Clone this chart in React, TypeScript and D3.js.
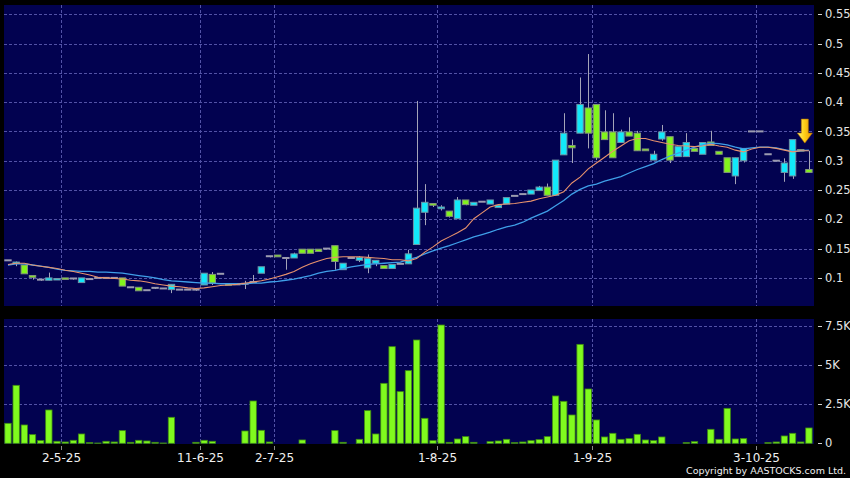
import * as d3 from 'd3'
import React, { useEffect, useRef } from 'react'

// daily candles, oldest first
const opens = [
  0.13, 0.125, 0.122, 0.104, 0.097, 0.096, 0.097, 0.1, 0.099, 0.092,
  0.098, 0.1, 0.1, 0.1, 0.1, 0.084, 0.084, 0.079, 0.083, 0.082,
  0.08, 0.08, 0.08, 0.08, 0.088, 0.106, 0.107, 0.09, 0.089, 0.09,
  0.093, 0.108, 0.137, 0.139, 0.134, 0.134, 0.149, 0.149, 0.149, 0.15,
  0.155, 0.114, 0.134, 0.13, 0.117, 0.125, 0.121, 0.116, 0.124, 0.124,
  0.157, 0.212, 0.227, 0.218, 0.214, 0.201, 0.233, 0.224, 0.23, 0.226,
  0.22, 0.226, 0.24, 0.243, 0.243, 0.249, 0.255, 0.241, 0.31, 0.326,
  0.347, 0.39, 0.396, 0.349, 0.349, 0.331, 0.349, 0.347, 0.32, 0.301,
  0.337, 0.341, 0.307, 0.307, 0.321, 0.311, 0.332, 0.316, 0.305, 0.274,
  0.3, 0.35, 0.35, 0.311, 0.3, 0.28, 0.274, 0.319, 0.285,
]
const highs = [
  0.13, 0.128, 0.122, 0.104, 0.097, 0.109, 0.099, 0.1, 0.099, 0.1,
  0.098, 0.1, 0.1, 0.1, 0.1, 0.084, 0.084, 0.079, 0.083, 0.082,
  0.089, 0.08, 0.08, 0.08, 0.108, 0.11, 0.107, 0.09, 0.089, 0.095,
  0.105, 0.119, 0.137, 0.139, 0.134, 0.143, 0.149, 0.149, 0.149, 0.15,
  0.155, 0.125, 0.134, 0.137, 0.14, 0.13, 0.121, 0.123, 0.124, 0.148,
  0.402, 0.26, 0.227, 0.224, 0.214, 0.238, 0.233, 0.229, 0.23, 0.233,
  0.224, 0.237, 0.24, 0.243, 0.25, 0.257, 0.261, 0.301, 0.381, 0.336,
  0.442, 0.482, 0.396, 0.386, 0.381, 0.353, 0.374, 0.351, 0.32, 0.317,
  0.361, 0.341, 0.324, 0.347, 0.321, 0.331, 0.351, 0.316, 0.305, 0.305,
  0.321, 0.35, 0.35, 0.311, 0.3, 0.304, 0.336, 0.319, 0.317,
]
const lows = [
  0.13, 0.12, 0.107, 0.097, 0.095, 0.096, 0.097, 0.098, 0.097, 0.092,
  0.098, 0.1, 0.1, 0.1, 0.086, 0.084, 0.078, 0.079, 0.081, 0.082,
  0.074, 0.08, 0.08, 0.078, 0.088, 0.088, 0.107, 0.088, 0.089, 0.081,
  0.093, 0.108, 0.135, 0.136, 0.114, 0.134, 0.142, 0.142, 0.145, 0.15,
  0.114, 0.114, 0.134, 0.127, 0.108, 0.12, 0.116, 0.116, 0.124, 0.124,
  0.157, 0.19, 0.221, 0.215, 0.203, 0.201, 0.224, 0.224, 0.23, 0.226,
  0.22, 0.226, 0.24, 0.243, 0.243, 0.249, 0.241, 0.241, 0.31, 0.296,
  0.347, 0.321, 0.301, 0.336, 0.305, 0.331, 0.342, 0.317, 0.317, 0.301,
  0.334, 0.296, 0.307, 0.307, 0.316, 0.311, 0.326, 0.311, 0.28, 0.26,
  0.297, 0.35, 0.35, 0.311, 0.3, 0.264, 0.269, 0.317, 0.28,
]
const closes = [
  0.13, 0.127, 0.107, 0.101, 0.097, 0.1, 0.099, 0.098, 0.099, 0.1,
  0.098, 0.1, 0.1, 0.1, 0.086, 0.084, 0.078, 0.079, 0.083, 0.082,
  0.089, 0.08, 0.08, 0.08, 0.108, 0.091, 0.107, 0.088, 0.089, 0.09,
  0.093, 0.119, 0.137, 0.136, 0.134, 0.141, 0.142, 0.142, 0.145, 0.15,
  0.128, 0.125, 0.134, 0.135, 0.133, 0.13, 0.116, 0.123, 0.124, 0.141,
  0.219, 0.229, 0.224, 0.221, 0.205, 0.233, 0.225, 0.229, 0.23, 0.233,
  0.224, 0.237, 0.24, 0.243, 0.25, 0.255, 0.241, 0.301, 0.347, 0.322,
  0.396, 0.347, 0.305, 0.336, 0.305, 0.349, 0.342, 0.317, 0.317, 0.311,
  0.349, 0.301, 0.324, 0.331, 0.316, 0.331, 0.326, 0.311, 0.28, 0.305,
  0.321, 0.35, 0.35, 0.311, 0.3, 0.296, 0.336, 0.317, 0.28,
]
const volumes = [
  1275, 3698, 1169, 553, 170, 2125, 128, 85, 191, 595,
  42, 20, 128, 85, 808, 64, 191, 149, 64, 21,
  1658, 0, 0, 64, 191, 128, 0, 0, 0, 786,
  2699, 829, 85, 0, 0, 0, 213, 0, 0, 0,
  808, 64, 0, 255, 2083, 595, 3825, 6163, 3294, 4633,
  6588, 1594, 170, 7544, 64, 276, 425, 64, 0, 106,
  149, 255, 42, 85, 170, 234, 425, 3018, 2678, 1806,
  6311, 3464, 1488, 404, 638, 255, 298, 574, 213, 170,
  404, 0, 0, 42, 106, 0, 893, 255, 2231, 276,
  298, 0, 0, 42, 85, 468, 638, 85, 978,
]
// moving averages as plotted (fast = orange, slow = blue)
const maFast = [
  0.123, 0.125, 0.125, 0.122, 0.12, 0.118, 0.116, 0.113, 0.111, 0.108,
  0.105, 0.101, 0.1, 0.099, 0.098, 0.096, 0.095, 0.093, 0.09, 0.088,
  0.086, 0.085, 0.083, 0.082, 0.083, 0.085, 0.087, 0.088, 0.089, 0.091,
  0.093, 0.095, 0.098, 0.102, 0.106, 0.111, 0.118, 0.124, 0.129, 0.133,
  0.135, 0.136, 0.136, 0.136, 0.135, 0.134, 0.133, 0.131, 0.131, 0.129,
  0.133, 0.144, 0.153, 0.163, 0.17, 0.177, 0.185, 0.201, 0.211, 0.221,
  0.225, 0.226, 0.227, 0.229, 0.231, 0.235, 0.238, 0.241, 0.247, 0.262,
  0.272, 0.286, 0.296, 0.306, 0.316, 0.325, 0.334, 0.338, 0.338, 0.334,
  0.331, 0.328, 0.326, 0.325, 0.324, 0.325, 0.328, 0.325, 0.323, 0.318,
  0.315, 0.32, 0.323, 0.323, 0.321, 0.318, 0.315, 0.317, 0.317,
]
const maSlow = [
  0.122, 0.124, 0.124, 0.122, 0.12, 0.118, 0.115, 0.113, 0.112, 0.111,
  0.111, 0.11, 0.11, 0.109, 0.108, 0.106, 0.104, 0.102, 0.1, 0.097,
  0.095, 0.094, 0.093, 0.092, 0.091, 0.091, 0.09, 0.09, 0.09, 0.09,
  0.091, 0.091, 0.093, 0.094, 0.096, 0.098, 0.101, 0.104, 0.108, 0.111,
  0.113, 0.116, 0.119, 0.121, 0.123, 0.124, 0.125, 0.126, 0.127, 0.131,
  0.135, 0.141, 0.146, 0.151, 0.155, 0.16, 0.165, 0.17, 0.174, 0.178,
  0.183, 0.187, 0.19, 0.195, 0.202, 0.208, 0.214, 0.223, 0.232, 0.243,
  0.251, 0.257, 0.26, 0.265, 0.269, 0.273, 0.279, 0.285, 0.29, 0.295,
  0.302, 0.308, 0.313, 0.318, 0.323, 0.327, 0.33, 0.329, 0.327, 0.323,
  0.32, 0.322, 0.323, 0.323, 0.322, 0.319, 0.316, 0.317, 0.318,
]
const tickIdx = [7, 24, 33, 53, 72, 92]
const tickLabels = ['2-5-25', '11-6-25', '2-7-25', '1-8-25', '1-9-25', '3-10-25']
const priceTicks = [0.1, 0.15, 0.2, 0.25, 0.3, 0.35, 0.4, 0.45, 0.5, 0.55]
const volTicks = [0, 2500, 5000, 7500]
const volTickLabels = ['0', '2.5K', '5K', '7.5K']

const W = 850
const H = 478
const FONT = '"DejaVu Sans", Verdana, sans-serif'

const drawChart = (node: SVGSVGElement) => {
  const svg = d3.select(node)
  svg.selectAll('*').remove()

  const left = 4, right = 814
  const pTop = 5, pBottom = 306
  const vTop = 319, vBottom = 444

  const idx = d3.range(closes.length)
  const x = d3.scaleBand<number>()
    .domain(idx)
    .range([3.9, 813])
    .paddingInner(0.22)
    .paddingOuter(0.11)
  const step = x.step()
  const bw = x.bandwidth()
  const cx = (i: number) => (x(i) as number) + bw / 2
  const gridX = (i: number) => (x(i) as number) - step * 0.11

  const y = d3.scaleLinear().domain([0.1, 0.55]).range([277.9, 14.2])
  const yv = d3.scaleLinear().domain([0, 7500]).range([443.3, 325.7])

  svg.append('rect').attr('width', W).attr('height', H).attr('fill', '#000')

  const defs = svg.append('defs')
  defs.append('clipPath').attr('id', 'pclip')
    .append('rect').attr('x', left).attr('y', pTop).attr('width', right - left).attr('height', pBottom - pTop)
  const grad = defs.append('linearGradient').attr('id', 'arrowGrad')
    .attr('x1', '0').attr('x2', '1').attr('y1', '0').attr('y2', '0')
  grad.append('stop').attr('offset', '0%').attr('stop-color', '#fff27a')
  grad.append('stop').attr('offset', '45%').attr('stop-color', '#ffd21a')
  grad.append('stop').attr('offset', '100%').attr('stop-color', '#e89400')

  // panels
  svg.append('rect').attr('x', left).attr('y', pTop).attr('width', right - left).attr('height', pBottom - pTop).attr('fill', '#020250')
  svg.append('rect').attr('x', left).attr('y', vTop).attr('width', right - left).attr('height', vBottom - vTop).attr('fill', '#020250')

  const gridColor = '#5252a6'
  const grid = svg.append('g').attr('stroke', gridColor).attr('stroke-width', 1).attr('stroke-dasharray', '3,2')
  priceTicks.forEach((t) => {
    grid.append('line').attr('x1', left).attr('x2', right).attr('y1', Math.round(y(t)) + 0.5).attr('y2', Math.round(y(t)) + 0.5)
  })
  volTicks.slice(1).forEach((t) => {
    grid.append('line').attr('x1', left).attr('x2', right).attr('y1', Math.round(yv(t)) + 0.5).attr('y2', Math.round(yv(t)) + 0.5)
  })
  tickIdx.forEach((i) => {
    const gx = Math.round(gridX(i)) + 0.5
    grid.append('line').attr('x1', gx).attr('x2', gx).attr('y1', pTop).attr('y2', pBottom)
    grid.append('line').attr('x1', gx).attr('x2', gx).attr('y1', vTop).attr('y2', vBottom)
  })

  // candles
  const candles = svg.append('g').attr('clip-path', 'url(#pclip)')
  idx.forEach((i) => {
    const o = opens[i], c = closes[i], h = highs[i], l = lows[i]
    const xm = Math.round(cx(i)) + 0.5
    if (h > Math.max(o, c) || l < Math.min(o, c)) {
      candles.append('line')
        .attr('x1', xm).attr('x2', xm)
        .attr('y1', y(h)).attr('y2', y(l))
        .attr('stroke', '#a4a4b8').attr('stroke-width', 1)
    }
    if (o === c) {
      candles.append('rect')
        .attr('x', (x(i) as number) - 0.5).attr('y', y(c) - 1)
        .attr('width', bw + 1).attr('height', 2)
        .attr('fill', '#9c9cb0')
      return
    }
    const up = c > o
    const top = y(Math.max(o, c))
    const hgt = Math.max(1.5, y(Math.min(o, c)) - top)
    candles.append('rect')
      .attr('x', x(i) as number).attr('y', top)
      .attr('width', bw).attr('height', hgt)
      .attr('fill', up ? '#12e8fa' : '#82f41c')
      .attr('stroke', up ? '#6f95a6' : '#84967a')
      .attr('stroke-width', 1)
  })

  // moving averages
  const line = d3.line<number>()
    .x((_, i) => cx(i))
    .y((d) => y(d))
  candles.append('path').attr('d', line(maSlow)).attr('fill', 'none')
    .attr('stroke', '#3f9fe8').attr('stroke-width', 1.3)
  candles.append('path').attr('d', line(maFast)).attr('fill', 'none')
    .attr('stroke', '#e8926c').attr('stroke-width', 1.1)

  // volume
  svg.append('g').selectAll('rect')
    .data(volumes)
    .enter()
    .append('rect')
    .attr('x', (_, i) => x(i) as number)
    .attr('y', (d) => yv(d))
    .attr('width', bw)
    .attr('height', (d) => yv(0) - yv(d))
    .attr('fill', '#80fa1e')
    .attr('stroke', (d) => (d > 0 ? '#3f8a12' : 'none'))
    .attr('stroke-width', 0.8)

  // right axes
  const axisText = svg.append('g').attr('font-family', FONT).attr('font-size', 11.5).attr('fill', '#e6e6e6')
  priceTicks.forEach((t) => {
    svg.append('line').attr('x1', 818).attr('x2', 822).attr('y1', Math.round(y(t)) + 0.5).attr('y2', Math.round(y(t)) + 0.5)
      .attr('stroke', '#cfcfcf')
    axisText.append('text').attr('x', 825).attr('y', y(t)).attr('dy', '0.36em').text(d3.format('~g')(t))
  })
  volTicks.forEach((t, k) => {
    svg.append('line').attr('x1', 818).attr('x2', 822).attr('y1', Math.round(yv(t)) + 0.5).attr('y2', Math.round(yv(t)) + 0.5)
      .attr('stroke', '#cfcfcf')
    axisText.append('text').attr('x', 825).attr('y', yv(t)).attr('dy', '0.36em').text(volTickLabels[k])
  })

  // bottom date axis
  const dateAxis = svg.append('g').attr('font-family', FONT).attr('font-size', 12).attr('fill', '#f0f0f0')
  tickIdx.forEach((i, k) => {
    const gx = Math.round(gridX(i)) + 0.5
    svg.append('line').attr('x1', gx).attr('x2', gx).attr('y1', 446).attr('y2', 450).attr('stroke', '#8a8a8a')
    dateAxis.append('text').attr('x', gx).attr('y', 462).attr('text-anchor', 'middle').text(tickLabels[k])
  })

  svg.append('text')
    .attr('x', 846).attr('y', 474)
    .attr('text-anchor', 'end')
    .attr('font-family', FONT).attr('font-size', 9.5).attr('fill', '#f0f0f0')
    .text('Copyright by AASTOCKS.com Ltd.')

  // latest-bar marker
  const last = closes.length - 1
  const ax = (cx(last - 1) + cx(last)) / 2
  const tipY = y(0.33)
  const arrow = d3.path()
  arrow.moveTo(ax - 3.5, tipY - 24)
  arrow.lineTo(ax + 3.5, tipY - 24)
  arrow.lineTo(ax + 3.5, tipY - 10)
  arrow.lineTo(ax + 7.5, tipY - 10)
  arrow.lineTo(ax, tipY)
  arrow.lineTo(ax - 7.5, tipY - 10)
  arrow.lineTo(ax - 3.5, tipY - 10)
  arrow.closePath()
  svg.append('path').attr('d', arrow.toString())
    .attr('fill', 'url(#arrowGrad)').attr('stroke', '#b87800').attr('stroke-width', 0.6)
}

export default function App() {
  const ref = useRef<SVGSVGElement>(null)
  useEffect(() => {
    document.body.style.margin = '0'
    if (ref.current) drawChart(ref.current)
  }, [])
  return (
    <svg ref={ref} width={W} height={H} style={{ position: 'absolute', left: 0, top: 0, display: 'block' }} />
  )
}
